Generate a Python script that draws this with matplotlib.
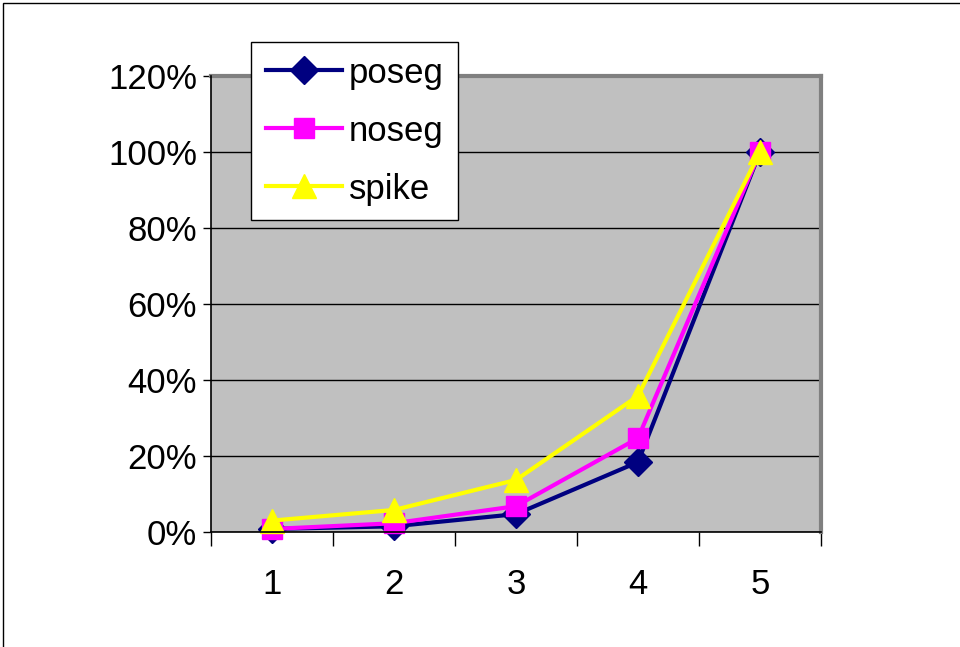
import matplotlib.pyplot as plt
from matplotlib.patches import Rectangle
from matplotlib.ticker import FixedLocator, PercentFormatter

plt.rcParams["font.family"] = ["Liberation Sans", "DejaVu Sans"]

categories = [1, 2, 3, 4, 5]
poseg = [0.008, 0.015, 0.047, 0.184, 1.0]
noseg = [0.008, 0.023, 0.068, 0.247, 1.0]
spike = [0.030, 0.058, 0.137, 0.358, 1.0]

fig = plt.figure(figsize=(9.6, 6.47), dpi=100)
ax = fig.add_axes([211 / 960, 1 - 532 / 647, 610 / 960, 456 / 647])
ax.set_facecolor("#c0c0c0")

x = list(range(1, len(categories) + 1))
ax.plot(x, poseg, color="#000080", lw=3, marker="D", ms=14, label="poseg", clip_on=False)
ax.plot(x, noseg, color="#ff00ff", lw=3, marker="s", ms=15, label="noseg", clip_on=False)
ax.plot(x, spike, color="#ffff00", lw=3, marker="^", ms=17, label="spike", clip_on=False)

ax.set_xlim(0.5, len(categories) + 0.5)
ax.set_ylim(0, 1.2)
ax.set_yticks([0, 0.2, 0.4, 0.6, 0.8, 1.0, 1.2])
ax.yaxis.set_major_formatter(PercentFormatter(1.0, decimals=0))
ax.xaxis.set_major_locator(FixedLocator([i + 0.5 for i in range(len(categories) + 1)]))
ax.xaxis.set_minor_locator(FixedLocator(x))
ax.set_xticklabels([])
ax.set_xticklabels([str(c) for c in categories], minor=True)
ax.tick_params(axis="x", which="major", length=10, width=1, direction="out")
ax.tick_params(axis="x", which="minor", length=0, pad=26, labelsize=25)
ax.tick_params(axis="y", length=6, width=1, labelsize=25, pad=4)
ax.grid(axis="y", color="black", lw=1)
ax.set_axisbelow(True)

for s in ["top", "right"]:
    ax.spines[s].set_color("#808080")
    ax.spines[s].set_linewidth(3)
for s in ["left", "bottom"]:
    ax.spines[s].set_color("black")
    ax.spines[s].set_linewidth(1.2)
    ax.spines[s].set_zorder(5)

leg = fig.legend(loc="upper left", bbox_to_anchor=(251 / 960, 1 - 42 / 647),
                 fontsize=25, fancybox=False, framealpha=1, edgecolor="black",
                 handlelength=2.2, handletextpad=0.2, labelspacing=0.72,
                 borderpad=0.42, borderaxespad=0)
leg.get_frame().set_linewidth(1)

fig.patches.append(Rectangle((3 / 960, -0.05), 1.0, 1.05 - 3 / 647, fill=False,
                             edgecolor="black", lw=1, transform=fig.transFigure))

fig.savefig("out.png", dpi=100)
